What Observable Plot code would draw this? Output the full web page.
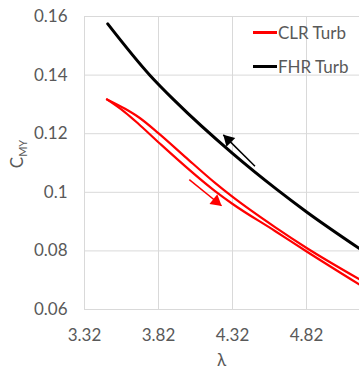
<!DOCTYPE html>
<html>
<head>
<meta charset="utf-8">
<script src="https://cdn.jsdelivr.net/npm/d3@7"></script>
<script src="https://cdn.jsdelivr.net/npm/@observablehq/plot@0.6"></script>
<style>
  body { margin: 0; background: #fff; }
  #wrap { position: relative; width: 359px; height: 371px; font-family: Lato, "Open Sans", sans-serif; color: #595959; overflow: hidden; }
  #wrap svg { position: absolute; left: 0; top: 0; }
  .lab { position: absolute; white-space: nowrap; font-size: 17px; line-height: 1; }
  .sw { position: absolute; height: 3px; width: 24px; }
</style>
</head>
<body>
<div id="wrap"></div>
<script>
// --- data ---
const fhrLambda = [3.477, 3.763, 3.931, 4.320, 4.619, 4.821, 5.178];
const fhrCMy    = [0.1575, 0.1399, 0.1312, 0.1133, 0.1010, 0.0933, 0.0808];

const clrUpLambda = [3.472, 3.594, 3.684, 3.819, 4.000, 4.202, 4.321, 4.607, 4.821, 5.178];
const clrUpCMy    = [0.1317, 0.1285, 0.1257, 0.1202, 0.1121, 0.1032, 0.0984, 0.0881, 0.0810, 0.0703];

const clrLoLambda = [3.472, 3.594, 3.684, 3.819, 4.202, 4.321, 4.607, 4.821, 5.178];
const clrLoCMy    = [0.1317, 0.1273, 0.1234, 0.1171, 0.1004, 0.0960, 0.0868, 0.0798, 0.0685];

const xTicks = [3.32, 3.82, 4.32, 4.82];
const yTicks = [0.06, 0.08, 0.1, 0.12, 0.14, 0.16];

const seriesNames = ["CLR Turb", "FHR Turb"];
const seriesColors = ["#ff0000", "#000000"];

// annotation arrows: [tail λ, tail C, tip λ, tip C]
const blackArrow = [4.472, 0.1089, 4.258, 0.1196];
const redArrow   = [4.028, 0.1043, 4.246, 0.0954];

const toPts = (xs, ys) => xs.map((x, i) => ({x, y: ys[i]}));
const fhr = toPts(fhrLambda, fhrCMy);
const clrUp = toPts(clrUpLambda, clrUpCMy);
const clrLo = toPts(clrLoLambda, clrLoCMy);
const arrowRow = a => [{x1: a[0], y1: a[1], x2: a[2], y2: a[3]}];

const grid = "#d9d9d9";
const fmt = d => String(+d.toFixed(2));

const chart = Plot.plot({
  width: 359,
  height: 371,
  marginLeft: 84,
  marginRight: 0,
  marginTop: 16,
  marginBottom: 62,
  style: {fontFamily: "Lato, 'Open Sans', sans-serif", background: "transparent"},
  x: {domain: [3.32, 3.32 + 275 / 148]},
  y: {domain: [0.06, 0.16]},
  marks: [
    Plot.gridX(xTicks, {stroke: grid, strokeOpacity: 1, strokeWidth: 1}),
    Plot.gridY(yTicks, {stroke: grid, strokeOpacity: 1, strokeWidth: 1}),
    Plot.axisX(xTicks, {tickSize: 0, tickPadding: 19, fontSize: 17, fill: "#595959", tickFormat: d => d.toFixed(2), label: null}),
    Plot.axisY(yTicks, {tickSize: 0, tickPadding: 17, fontSize: 17, fill: "#595959", tickFormat: fmt, label: null}),
    Plot.line(clrUp, {x: "x", y: "y", stroke: seriesColors[0], strokeWidth: 2.2, curve: "monotone-x", clip: true}),
    Plot.line(clrLo, {x: "x", y: "y", stroke: seriesColors[0], strokeWidth: 2.2, curve: "monotone-x", clip: true}),
    Plot.line(fhr, {x: "x", y: "y", stroke: seriesColors[1], strokeWidth: 3, curve: "monotone-x", clip: true}),
    Plot.link(arrowRow(blackArrow), {x1: "x1", y1: "y1", x2: "x2", y2: "y2", stroke: "#000", strokeWidth: 1.5}),
    Plot.dot(arrowRow(blackArrow), {x: "x2", y: "y2", symbol: "triangle", r: 4.6, fill: "#000", stroke: "none", rotate: -45, dx: 5, dy: 5}),
    Plot.link(arrowRow(redArrow), {x1: "x1", y1: "y1", x2: "x2", y2: "y2", stroke: "#ff0000", strokeWidth: 1.5}),
    Plot.dot(arrowRow(redArrow), {x: "x2", y: "y2", symbol: "triangle", r: 4.6, fill: "#ff0000", stroke: "none", rotate: 129, dx: -5.4, dy: -4.4})
  ]
});

const wrap = document.getElementById("wrap");
wrap.appendChild(chart);

// legend (inside plot area, top right)
seriesNames.forEach((name, i) => {
  const top = [32.7, 66.7][i];
  const sw = document.createElement("div");
  sw.className = "sw";
  sw.style.left = "253px";
  sw.style.top = (top - 1.5) + "px";
  sw.style.background = seriesColors[i];
  wrap.appendChild(sw);
  const t = document.createElement("div");
  t.className = "lab";
  t.textContent = name;
  t.style.left = "278px";
  t.style.top = (top - 9) + "px";
  wrap.appendChild(t);
});

// axis titles
const xl = document.createElement("div");
xl.className = "lab";
xl.textContent = "λ";
xl.style.left = "221.5px";
xl.style.top = "351px";
xl.style.transform = "translateX(-50%)";
wrap.appendChild(xl);

const yl = document.createElement("div");
yl.className = "lab";
yl.innerHTML = 'C<span style="font-size:11px;position:relative;top:4px">MY</span>';
yl.style.left = "16px";
yl.style.top = "154px";
yl.style.transform = "translate(-50%,-50%) rotate(-90deg)";
wrap.appendChild(yl);
</script>
</body>
</html>
